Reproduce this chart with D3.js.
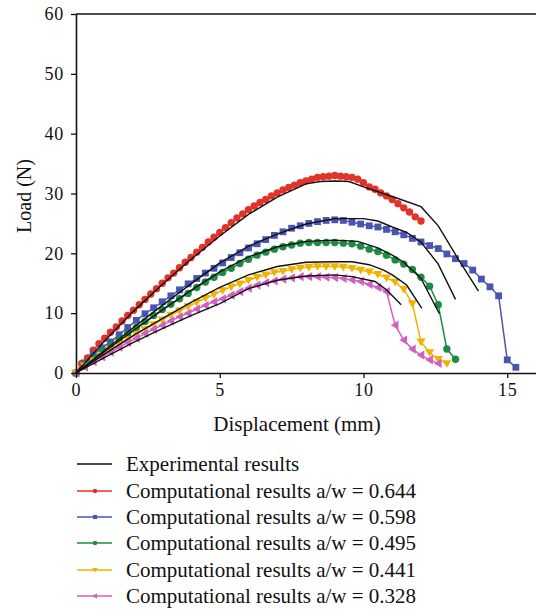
<!DOCTYPE html>
<html><head><meta charset="utf-8">
<script src="https://cdn.jsdelivr.net/npm/d3@7"></script>
<style>body{margin:0;background:#fff}svg{display:block}</style>
</head><body>
<svg id="c" width="536" height="610"></svg>
<script>
// ---- data ----
const xTicks = [0, 5, 10, 15];
const yTicks = [0, 10, 20, 30, 40, 50, 60];
const labels = ["Experimental results",
  "Computational results a/w = 0.644",
  "Computational results a/w = 0.598",
  "Computational results a/w = 0.495",
  "Computational results a/w = 0.441",
  "Computational results a/w = 0.328"];

// computational: displacement step (mm) and loads (N)
const redStep = 0.2;
const redLoad = [0,1.6,2.5,3.8,4.9,5.8,6.8,7.7,8.7,9.6,10.5,11.4,12.3,13.2,14.1,15.0,15.9,16.7,17.6,18.5,19.3,20.2,21.0,21.9,22.7,23.5,24.3,25.1,25.9,26.6,27.3,27.9,28.5,29.0,29.6,30.1,30.6,31.0,31.4,31.8,32.1,32.4,32.7,32.8,32.9,33.0,32.9,32.8,32.7,32.4,31.8,31.1,30.7,30.1,29.6,29.0,28.3,27.6,26.9,26.1,25.4];
const blueStep = 0.3;
const blueLoad = [0,1.7,3.1,4.2,5.2,6.4,7.6,8.8,9.9,10.9,11.9,12.9,13.9,14.9,15.8,16.7,17.5,18.4,19.3,20.1,20.9,21.6,22.3,23.0,23.6,24.2,24.6,25.0,25.3,25.5,25.6,25.5,25.2,24.9,24.6,24.4,24.0,23.6,23.1,22.5,21.9,21.3,20.8,19.9,19.1,18.3,17.2,15.7,14.4,12.9,2.2,0.95];
const greenStep = 0.3;
const greenLoad = [0,1.5,2.6,3.6,4.6,5.6,6.6,7.6,8.6,9.6,10.6,11.5,12.4,13.3,14.3,15.2,16.0,16.8,17.5,18.3,19.0,19.7,20.2,20.7,21.1,21.4,21.7,21.8,21.8,21.8,21.8,21.7,21.6,21.2,20.7,20.3,19.7,18.9,18.2,17.3,16.0,14.5,11.4,4.0,2.3];
const yellowStep = 0.3;
const yellowLoad = [0,1.2,2.1,3.0,3.9,4.8,5.6,6.5,7.3,8.1,8.9,9.7,10.4,11.1,11.8,12.5,13.1,13.8,14.4,14.9,15.5,16.0,16.4,16.8,17.0,17.3,17.55,17.7,17.8,17.8,17.8,17.7,17.5,17.2,16.9,16.5,15.9,15.2,14.0,11.6,5.2,3.4,2.3,1.6];
const magentaStep = 0.3;
const magentaLoad = [0,1.0,1.9,2.7,3.5,4.3,5.1,5.8,6.6,7.3,8.0,8.7,9.4,10.0,10.7,11.3,11.9,12.4,13.0,13.6,14.2,14.7,15.1,15.4,15.7,15.9,16.1,16.1,16.1,16.0,15.95,15.8,15.55,15.3,14.8,14.3,13.6,8.0,5.5,4.0,3.0,2.2,1.6];

// experimental curves [displacement, load]
const expRed = [[0,0],[1,5.4],[2,10.3],[3,14.8],[4,19.0],[5,22.9],[6,26.5],[7,29.4],[8,31.6],[8.5,32.0],[9,32.1],[9.5,32.0],[10,31.1],[11,29.5],[12,27.8],[12.6,24.6],[13.3,19.0],[14.0,13.7]];
const expBlue = [[0,0],[1,3.8],[2,7.6],[3,11.3],[4,14.9],[5,18.4],[6,21.2],[7,23.2],[8,24.9],[9,25.8],[10,25.8],[10.5,25.4],[11,24.4],[11.5,23.5],[12,21.9],[12.6,18.2],[13.2,12.3]];
const expGreen = [[0,0],[1,3.6],[2,7.1],[3,10.5],[4,13.8],[5,16.9],[6,19.4],[7,21.1],[8,22.0],[9,22.2],[9.8,22.0],[10.5,20.9],[11,19.7],[11.4,18.5],[12,15.8],[12.64,9.9]];
const expYellow = [[0,0],[1,3.2],[2,6.3],[3,9.1],[4,11.8],[5,14.3],[6,16.4],[7,17.8],[8,18.5],[9,18.6],[9.6,18.6],[10.2,18.1],[10.7,17.2],[11.0,16.4],[11.5,14.7],[12.03,10.8]];
const expMagenta = [[0,0],[1,2.6],[2,5.1],[3,7.4],[4,9.6],[5,11.6],[6,14.1],[7,15.5],[8,16.2],[9,16.4],[9.6,16.1],[10.4,15.3],[10.8,13.9],[11.31,11.4]];

const colors = ["#e2332a", "#4a55b3", "#1d8c42", "#f2b200", "#d35fc1"];

// ---- chart ----
const svg = d3.select("#c");
const FONT = "'Liberation Serif', 'DejaVu Serif', serif";
const x = d3.scaleLinear().domain([0, 16]).range([76, 536]);
const y = d3.scaleLinear().domain([0, 60]).range([373, 14]);

const series = [
  {step: redStep, load: redLoad, color: colors[0], sym: "circle"},
  {step: blueStep, load: blueLoad, color: colors[1], sym: "square"},
  {step: greenStep, load: greenLoad, color: colors[2], sym: "circle"},
  {step: yellowStep, load: yellowLoad, color: colors[3], sym: "tdown"},
  {step: magentaStep, load: magentaLoad, color: colors[4], sym: "tleft"}
];
const exps = [expRed, expBlue, expGreen, expYellow, expMagenta];

function marker(g, sym, color, cx, cy) {
  if (sym === "circle") {
    g.append("circle").attr("cx", cx).attr("cy", cy).attr("r", 3.7).attr("fill", color);
  } else if (sym === "square") {
    g.append("rect").attr("x", cx - 3.4).attr("y", cy - 3.4).attr("width", 6.8).attr("height", 6.8).attr("fill", color);
  } else if (sym === "tdown") {
    g.append("path").attr("d", `M${cx-4.6},${cy-3.3}L${cx+4.6},${cy-3.3}L${cx},${cy+4.3}Z`).attr("fill", color);
  } else if (sym === "tleft") {
    g.append("path").attr("d", `M${cx-4.3},${cy}L${cx+3.3},${cy-4.6}L${cx+3.3},${cy+4.6}Z`).attr("fill", color);
  }
}

const line = d3.line().x(d => x(d[0])).y(d => y(d[1]));

// computational series
series.forEach(s => {
  const pts = s.load.map((v, i) => [+(i * s.step).toFixed(2), v]);
  svg.append("path").datum(pts).attr("d", line).attr("fill", "none")
    .attr("stroke", s.color).attr("stroke-width", 1.5);
  const g = svg.append("g");
  pts.forEach(p => marker(g, s.sym, s.color, x(p[0]), y(p[1])));
});

// experimental
exps.forEach(e => {
  svg.append("path").datum(e).attr("d", line).attr("fill", "none")
    .attr("stroke", "#111").attr("stroke-width", 1.4);
});

// axes
const xAxis = svg.append("g").attr("transform", "translate(0,373)")
  .call(d3.axisBottom(x).tickValues(xTicks).tickSize(5).tickSizeOuter(0).tickPadding(5));
const yAxis = svg.append("g").attr("transform", "translate(76,0)")
  .call(d3.axisLeft(y).tickValues(yTicks).tickSize(5).tickSizeOuter(0).tickPadding(7));
[xAxis, yAxis].forEach(a => {
  a.select(".domain").attr("stroke", "#111").attr("stroke-width", 1.6);
  a.selectAll(".tick line").attr("stroke", "#111").attr("stroke-width", 1.3);
  a.selectAll("text").attr("font-family", FONT).attr("font-size", 18).attr("letter-spacing", 0.8).attr("fill", "#111");
});
// top border
svg.append("line").attr("x1", 76).attr("x2", 536).attr("y1", y(60)).attr("y2", y(60))
  .attr("stroke", "#111").attr("stroke-width", 1.6);

// axis titles
svg.append("text").attr("x", 297).attr("y", 431).attr("text-anchor", "middle")
  .attr("font-family", FONT).attr("font-size", 21).attr("fill", "#111").text("Displacement (mm)");
svg.append("text").attr("transform", "translate(31,196) rotate(-90)").attr("text-anchor", "middle")
  .attr("font-family", FONT).attr("font-size", 20).attr("fill", "#111").text("Load (N)");

// legend
const legY = [464, 491, 517, 543, 570, 596];
const lg = svg.append("g");
labels.forEach((lab, i) => {
  const yy = legY[i];
  const c = i === 0 ? "#111" : colors[i - 1];
  lg.append("line").attr("x1", 77).attr("x2", 112).attr("y1", yy).attr("y2", yy)
    .attr("stroke", c).attr("stroke-width", 1.5);
  if (i > 0) {
    const s = series[i - 1];
    const gm = lg.append("g").attr("transform", `translate(95,${yy}) scale(0.6) translate(-95,${-yy})`);
    marker(gm, s.sym, s.color, 95, yy);
  }
  lg.append("text").attr("x", 126).attr("y", yy).attr("dy", "0.35em")
    .attr("font-family", FONT).attr("font-size", 21).attr("fill", "#111").text(lab);
});
</script>
</body></html>
